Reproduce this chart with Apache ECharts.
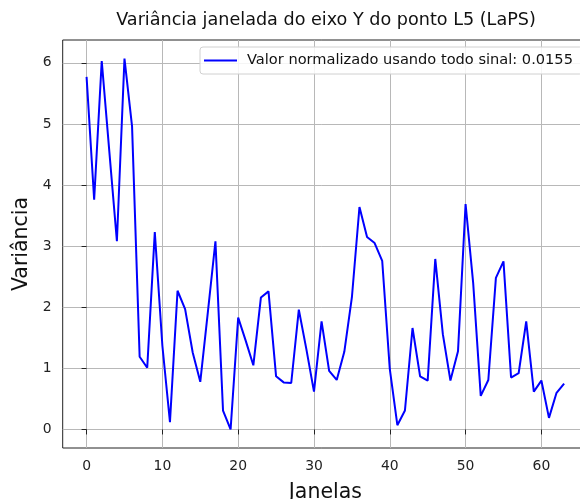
<!DOCTYPE html>
<html>
<head>
<meta charset="utf-8">
<script src="https://cdn.jsdelivr.net/npm/echarts@6/dist/echarts.min.js"></script>
<style>html,body{margin:0;padding:0;background:#fff}#c{width:580px;height:499px}</style>
</head>
<body>
<div id="c"></div>
<script>
var titleText = 'Variância janelada do eixo Y do ponto L5 (LaPS)';
var xLabel = 'Janelas';
var yLabel = 'Variância';
var seriesName = 'Valor normalizado usando todo sinal: 0.0155';
var xTicks = [0, 10, 20, 30, 40, 50, 60];
var yTicks = [0, 1, 2, 3, 4, 5, 6];
var variancia = [5.77, 3.76, 6.03, 4.55, 3.08, 6.07, 4.96, 1.19, 1.01, 3.23,
  1.37, 0.12, 2.27, 1.97, 1.26, 0.78, 1.92, 3.08, 0.31, 0.00,
  1.83, 1.45, 1.05, 2.16, 2.26, 0.87, 0.77, 0.76, 1.96, 1.31,
  0.62, 1.77, 0.96, 0.81, 1.27, 2.16, 3.64, 3.15, 3.05, 2.76,
  0.99, 0.07, 0.31, 1.66, 0.87, 0.80, 2.79, 1.56, 0.80, 1.28,
  3.69, 2.40, 0.55, 0.81, 2.48, 2.75, 0.85, 0.92, 1.77, 0.62,
  0.80, 0.19, 0.60, 0.75];

var FONT = '"DejaVu Sans", sans-serif';
var n = variancia.length;
var xMargin = (n - 1) * 0.05;
var yMaxV = Math.max.apply(null, variancia), yMinV = Math.min.apply(null, variancia);
var yMargin = (yMaxV - yMinV) * 0.05;
var pts = variancia.map(function (v, i) { return [i, v]; });

var chart = echarts.init(document.getElementById('c'), null, {renderer: 'canvas'});
chart.setOption({
  animation: false,
  backgroundColor: '#fff',
  graphic: [{
    type: 'text', x: 326, y: 11,
    style: {text: titleText, font: '17.6px ' + FONT, fill: '#111', textAlign: 'center', textVerticalAlign: 'top'}
  }],
  grid: {left: 62.7, top: 40, bottom: 51, right: -8, outerBoundsMode: 'none', containLabel: false,
    show: true, borderColor: '#222', borderWidth: 1, backgroundColor: 'transparent'},
  legend: {
    left: 200, top: 47,
    padding: [6, 10, 6, 4],
    backgroundColor: 'rgba(255,255,255,0.85)',
    borderColor: '#d0d0d0', borderWidth: 1, borderRadius: 3,
    icon: 'rect', itemWidth: 33, itemHeight: 2,
    textStyle: {fontFamily: FONT, fontSize: 14.6, color: '#111', padding: [0, 0, 0, 5]},
    data: [{name: seriesName, itemStyle: {color: '#0000ff'}}]
  },
  xAxis: {
    type: 'value', min: -xMargin, max: n - 1 + xMargin,
    name: xLabel, nameLocation: 'middle', nameGap: 34,
    nameTextStyle: {fontFamily: FONT, fontSize: 20.5, color: '#111'},
    axisLine: {show: false},
    axisTick: {show: true, inside: false, length: 5, customValues: xTicks, lineStyle: {color: '#222'}},
    axisLabel: {customValues: xTicks, margin: 11, fontFamily: FONT, fontSize: 13.9, color: '#222'},
    splitLine: {show: true, lineStyle: {color: '#b8b8b8', width: 1}}
  },
  yAxis: {
    type: 'value', min: yMinV - yMargin, max: yMaxV + yMargin,
    name: yLabel, nameLocation: 'middle', nameGap: 24, nameRotate: 90,
    nameTextStyle: {fontFamily: FONT, fontSize: 20.5, color: '#111'},
    axisLine: {show: false},
    axisTick: {show: true, inside: false, length: 5, customValues: yTicks, lineStyle: {color: '#222'}},
    axisLabel: {customValues: yTicks, margin: 11, fontFamily: FONT, fontSize: 13.9, color: '#222'},
    splitLine: {show: true, lineStyle: {color: '#b8b8b8', width: 1}}
  },
  series: [{
    name: seriesName, type: 'line', data: pts, showSymbol: false, symbol: 'none',
    lineStyle: {color: '#0000ff', width: 2}, itemStyle: {color: '#0000ff'}
  }]
});
</script>
</body>
</html>
